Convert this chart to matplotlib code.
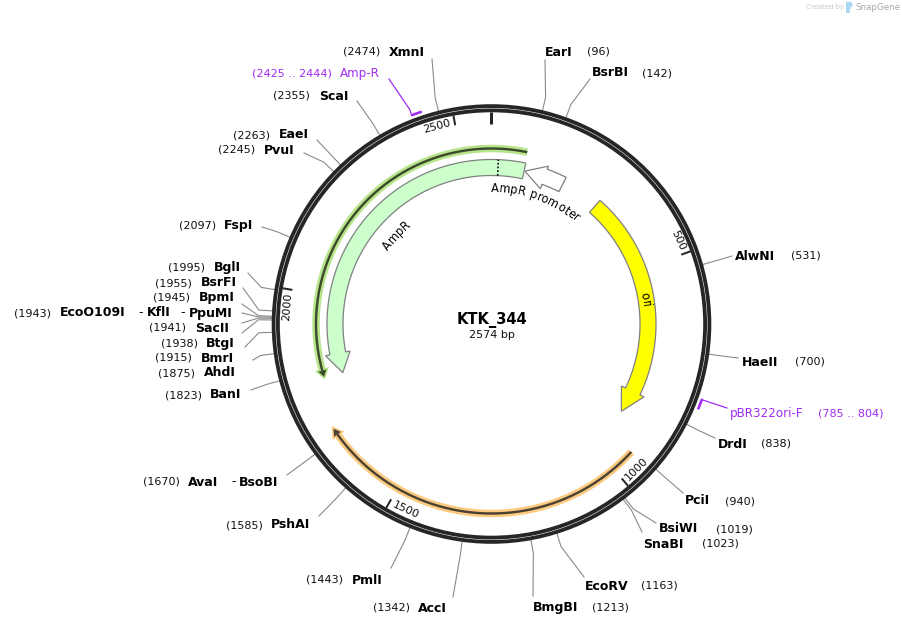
import numpy as np
import matplotlib
matplotlib.use('Agg')
import matplotlib.pyplot as plt
from matplotlib.patches import Circle, Polygon
from matplotlib.textpath import TextPath
from matplotlib.font_manager import FontProperties

plasmid_name = 'KTK_344'
plasmid_len = 2574

# restriction sites
site_names = ['EarI', 'BsrBI', 'AlwNI', 'HaeII', 'DrdI', 'PciI', 'BsiWI', 'SnaBI', 'EcoRV', 'BmgBI',
              'AccI', 'PmlI', 'PshAI', 'AvaI', 'BanI', 'AhdI', 'BmrI', 'BtgI', 'SacII', 'EcoO109I',
              'BpmI', 'BsrFI', 'BglI', 'FspI', 'PvuI', 'EaeI', 'ScaI', 'XmnI']
site_pos = [96, 142, 531, 700, 838, 940, 1019, 1023, 1163, 1213,
            1342, 1443, 1585, 1670, 1823, 1875, 1915, 1938, 1941, 1943,
            1945, 1955, 1995, 2097, 2245, 2263, 2355, 2474]

# label layout, in pixels
name_x = [545, 592, 735, 742, 718, 685, 659, 643, 585, 533,
          418, 352, 271, 188, 210, 204, 201, 206, 195, 60,
          199, 201, 214, 224, 264, 279, 319, 389]
num_x = [587, 642, 791, 795, 761, 725, 716, 702, 641, 592,
         373, 306, 226, 143, 165, 158, 155, 161, 149, 14,
         153, 155, 168, 179, 218, 233, 273, 343]
label_y = [52, 73, 256, 362, 444, 501, 529, 544, 586, 608,
           608, 580, 525, 482, 395, 373, 358, 343, 328, 313,
           298, 283, 268, 225, 150, 135, 96, 52]
end_x = [545, 590, 732, 738, 715, 683, 656, 642, 584, 533,
         453, 391, 319, 287, 251, 253, 245, 242, 242, 242,
         242, 243, 248, 262, 304, 317, 357, 432]
end_y = [60, 79, 256, 358, 438, 493, 523, 532, 577, 596,
         597, 568, 516, 475, 390, 360, 347, 333, 323, 313,
         304, 288, 273, 227, 153, 140, 101, 59]

# extra enzymes that share a row
extra_names = ['KflI', 'PpuMI', 'BsoBI']
extra_x = [147, 189, 239]
extra_y = [313, 313, 482]
dash_x = [138, 180, 231]
dash_y = [313, 313, 482]

# features: start, end (bp), tip is at the end
ampr_start, ampr_end = 86, 1801
promoter_start, promoter_end = 193, 88
ori_start, ori_end = 295, 886
ampr_split = 17
green_start, green_end = 84, 1806
orange_start, orange_end = 947, 1690

# primers
primer_names = ['Amp-R', 'pBR322ori-F']
primer_start = [2425, 785]
primer_end = [2444, 804]

tick_pos = [500, 1000, 1500, 2000, 2500]

cx, cy = 491.5, 324.0
px = 0.72  # 1 px in points at dpi 100

fig = plt.figure(figsize=(9.03, 6.26), dpi=100)
ax = fig.add_axes([0, 0, 1, 1])
ax.set_xlim(0, 903)
ax.set_ylim(626, 0)
ax.axis('off')


def ang(bp):
    return np.asarray(bp) / plasmid_len * 2 * np.pi


def xy(bp, r):
    a = ang(bp)
    return cx + r * np.sin(a), cy - r * np.cos(a)


def arc_arrow(start, end, r0, r1, head_r0, head_r1, head_len, fc, ec='#808080'):
    # walks from start to end, the tip sits at end
    sgn = np.sign(end - start)
    neck = end - sgn * head_len
    t = np.linspace(start, neck, 120)
    outer = np.column_stack(xy(t, r1))
    inner = np.column_stack(xy(t[::-1], r0))
    tip = np.column_stack(xy(end, (r0 + r1) / 2))
    head = np.vstack([np.column_stack(xy(neck, head_r1)), tip, np.column_stack(xy(neck, head_r0))])
    ax.add_patch(Polygon(np.vstack([outer, head, inner]), closed=True, fc=fc, ec=ec, lw=0.9, zorder=3))


def line_arrow(start, end, r, color, dark):
    sgn = np.sign(end - start)
    neck = end - sgn * 14
    t = np.linspace(start, neck, 200)
    x, y = xy(t, r)
    head = np.vstack([np.column_stack(xy(neck, r + 4)), np.column_stack(xy(end, r)), np.column_stack(xy(neck, r - 4))])
    ax.plot(x, y, color=color, lw=7.5 * px, solid_capstyle='butt', zorder=2)
    ax.add_patch(Polygon(head, closed=True, fc=color, ec=color, lw=3.5 * px, zorder=2))
    ax.plot(x, y, color=dark, lw=2.4 * px, solid_capstyle='butt', zorder=3)
    ax.add_patch(Polygon(head, closed=True, fc=dark, ec=dark, lw=0.2, zorder=3))


def curved_text(s, r, mid_angle, size, color='black'):
    # one char at a time along the arc, clockwise, top pointing out
    fp = FontProperties(family='DejaVu Sans', size=size)
    to_px = 100 / 72
    total = TextPath((0, 0), s, prop=fp).get_extents().width * to_px
    n_w = TextPath((0, 0), 'n', prop=fp).get_extents().width * to_px
    for i, ch in enumerate(s):
        before = 0
        if i:
            before = TextPath((0, 0), s[:i] + 'n', prop=fp).get_extents().width * to_px - n_w
        if ch == ' ':
            continue
        w = TextPath((0, 0), ch, prop=fp).get_extents().width * to_px
        a = np.deg2rad(mid_angle) + (before + w / 2 - total / 2) / r
        ax.text(cx + r * np.sin(a), cy - r * np.cos(a), ch, fontproperties=fp, color=color,
                rotation=-np.rad2deg(a), rotation_mode='anchor', ha='center', va='baseline', zorder=6)


# backbone
ring = '#262626'
ax.add_patch(Circle((cx, cy), 217.9, fill=False, ec=ring, lw=3.8 * px, zorder=4))
ax.add_patch(Circle((cx, cy), 213.6, fill=False, ec=ring, lw=3.8 * px, zorder=4))

# origin and numbered ticks
ox, oy = xy(0, np.array([200, 212]))
ax.plot(ox, oy, color=ring, lw=3 * px, solid_capstyle='butt', zorder=4)
for p in tick_pos:
    tx, ty = xy(p, np.array([202, 212]))
    ax.plot(tx, ty, color=ring, lw=2 * px, solid_capstyle='butt', zorder=4)
    # label sits just counter-clockwise of its tick
    half = len(str(p)) * 3.6
    deg = p / plasmid_len * 360 - np.rad2deg(half / 205) - 1
    lx, ly = cx + 205 * np.sin(np.deg2rad(deg)), cy - 205 * np.cos(np.deg2rad(deg))
    rot = -deg if deg < 90 or deg > 270 else 180 - deg
    ax.text(lx, ly, str(p), fontsize=8, rotation=rot, rotation_mode='anchor', ha='center', va='center', color='#111111')

# features
line_arrow(orange_start, orange_end, 189.5, '#fdcb80', '#4a4232')
line_arrow(green_start, green_end - plasmid_len, 175.5, '#b8e58c', '#3c4a2c')
arc_arrow(ampr_start, ampr_end - plasmid_len, 148.5, 164.5, 144, 169, 52, '#ccffcc')
arc_arrow(promoter_start, promoter_end, 148.5, 164.5, 143.8, 167.8, 54, '#ffffff')
arc_arrow(ori_start, ori_end, 148.5, 164.5, 144, 169, 60, '#ffff00')
dx, dy = xy(ampr_split, np.array([148.5, 164.5]))
ax.plot(dx, dy, color='black', lw=1.1, ls=(0, (1.2, 1.2)), zorder=5)

curved_text('AmpR promoter', 132, 19.5, 8.3)
curved_text('AmpR', 127, -47, 8.3)
curved_text('ori', 152, 81, 8.3)

# cut sites
grey = '#8a8a8a'
for i, name in enumerate(site_names):
    rx, ry = xy(site_pos[i], 219.5)
    ex, ey = xy(site_pos[i], 233)
    ax.plot([rx, ex, end_x[i]], [ry, ey, end_y[i]], color=grey, lw=0.8, zorder=1, solid_joinstyle='round')
    ax.text(name_x[i], label_y[i], name, fontsize=9, fontweight='bold', va='center', ha='left', color='black')
    ax.text(num_x[i], label_y[i], '(%d)' % site_pos[i], fontsize=8, va='center', ha='left', color='#111111')

for i, name in enumerate(extra_names):
    ax.text(extra_x[i], extra_y[i], name, fontsize=9, fontweight='bold', va='center', ha='left', color='black')
    ax.text(dash_x[i], dash_y[i], '-', fontsize=9, va='center', ha='left', color='black')

# primers
purple = '#a02cf0'
primer_end_xy = [(389, 79), (727, 408)]
primer_elbow_r = [229, 224]
primer_text = [(340, 73), (730, 413)]
primer_num = [(252, 73), (818, 413)]
for i, name in enumerate(primer_names):
    t = np.linspace(primer_start[i] - 1, primer_end[i], 10)
    x, y = xy(t, 223.5)
    ax.plot(x, y, color=purple, lw=2.6 * px, solid_capstyle='butt', zorder=4)
    ex, ey = xy(primer_start[i], primer_elbow_r[i])
    ax.plot([x[0], ex, primer_end_xy[i][0]], [y[0], ey, primer_end_xy[i][1]], color=purple, lw=0.9, zorder=4)
    ax.text(primer_text[i][0], primer_text[i][1], name, fontsize=8.6, color=purple, va='center', ha='left')
    ax.text(primer_num[i][0], primer_num[i][1], '(%d .. %d)' % (primer_start[i], primer_end[i]),
            fontsize=8, color=purple, va='center', ha='left')

# centre title
ax.text(cx, 320, plasmid_name, fontsize=10.5, fontweight='bold', ha='center', va='center', color='black')
ax.text(cx, 335, '%d bp' % plasmid_len, fontsize=8, ha='center', va='center', color='#111111')

# watermark
ax.text(806, 7.5, 'Created by', fontsize=5, color='#c9c9c9', ha='left', va='center')
ax.add_patch(Polygon([(846, 2), (851, 1.5), (853, 5), (850.5, 8), (849.5, 13), (846, 13)], closed=True,
                     fc='#a9d8f2', ec='none'))
ax.text(855, 7.5, 'SnapGene', fontsize=6.3, color='#a8a8a8', ha='left', va='center')

fig.savefig('out.png', dpi=100)
